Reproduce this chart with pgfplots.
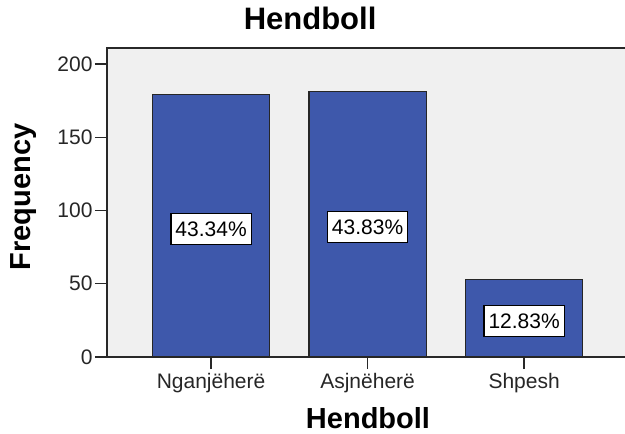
\documentclass[border=0pt]{standalone}
\usepackage{fontspec}
\setmainfont{Liberation Sans}
\usepackage{pgfplots}
\pgfplotsset{compat=1.18}

\definecolor{spssblue}{RGB}{62,88,171}
\definecolor{spssbg}{RGB}{240,240,240}
\definecolor{spssline}{RGB}{40,40,40}

\begin{document}
\begin{tikzpicture}
\path[use as bounding box] (-107pt,-77pt) rectangle (518pt,357pt);
\begin{axis}[
  at={(0,0)}, anchor=south west,
  scale only axis, width=522pt, height=309pt,
  xmin=-0.665, xmax=2.67, ymin=0, ymax=210.9,
  axis background/.style={fill=spssbg},
  axis line style={spssline, line width=1.3pt},
  xtick={0,1,2}, xticklabels={Nganjëherë,Asjnëherë,Shpesh},
  ytick={0,50,100,150,200},
  xtick pos=bottom, ytick pos=left,
  tick align=outside, major tick length=12pt,
  tick style={spssline, line width=1.3pt},
  tick label style={font=\fontsize{21}{24}\selectfont, text=black!85},
  xticklabel style={yshift=-1pt},
  yticklabel style={xshift=1pt},
  /pgf/number format/assume math mode=true,
  title={Hendboll},
  title style={font=\bfseries\fontsize{31}{34}\selectfont, at={(axis description cs:0.389,1.039)}, anchor=base},
  xlabel={Hendboll},
  xlabel style={font=\bfseries\fontsize{29}{32}\selectfont, at={(axis description cs:0.5,-0.231)}, anchor=base},
  ylabel={Frequency},
  ylabel style={font=\bfseries\fontsize{29}{32}\selectfont, at={(axis description cs:-0.159,0.518)}, anchor=center},
  clip=false,
]
\addplot[ybar, bar width=0.75, fill=spssblue, draw=black!85, line width=1.3pt]
  coordinates {(0,179) (1,181) (2,53)};
\addplot[only marks, mark=none, point meta=explicit symbolic,
  nodes near coords,
  nodes near coords style={anchor=center, fill=white, draw=black, line width=1.2pt,
    font=\fontsize{21}{24}\selectfont, inner xsep=4.5pt, inner ysep=8pt,
    text height=15pt, text depth=0pt}]
  coordinates {(0,87.5)[43.34\%] (1,89)[43.83\%] (2,24.5)[12.83\%]};
\end{axis}
\end{tikzpicture}
\end{document}
